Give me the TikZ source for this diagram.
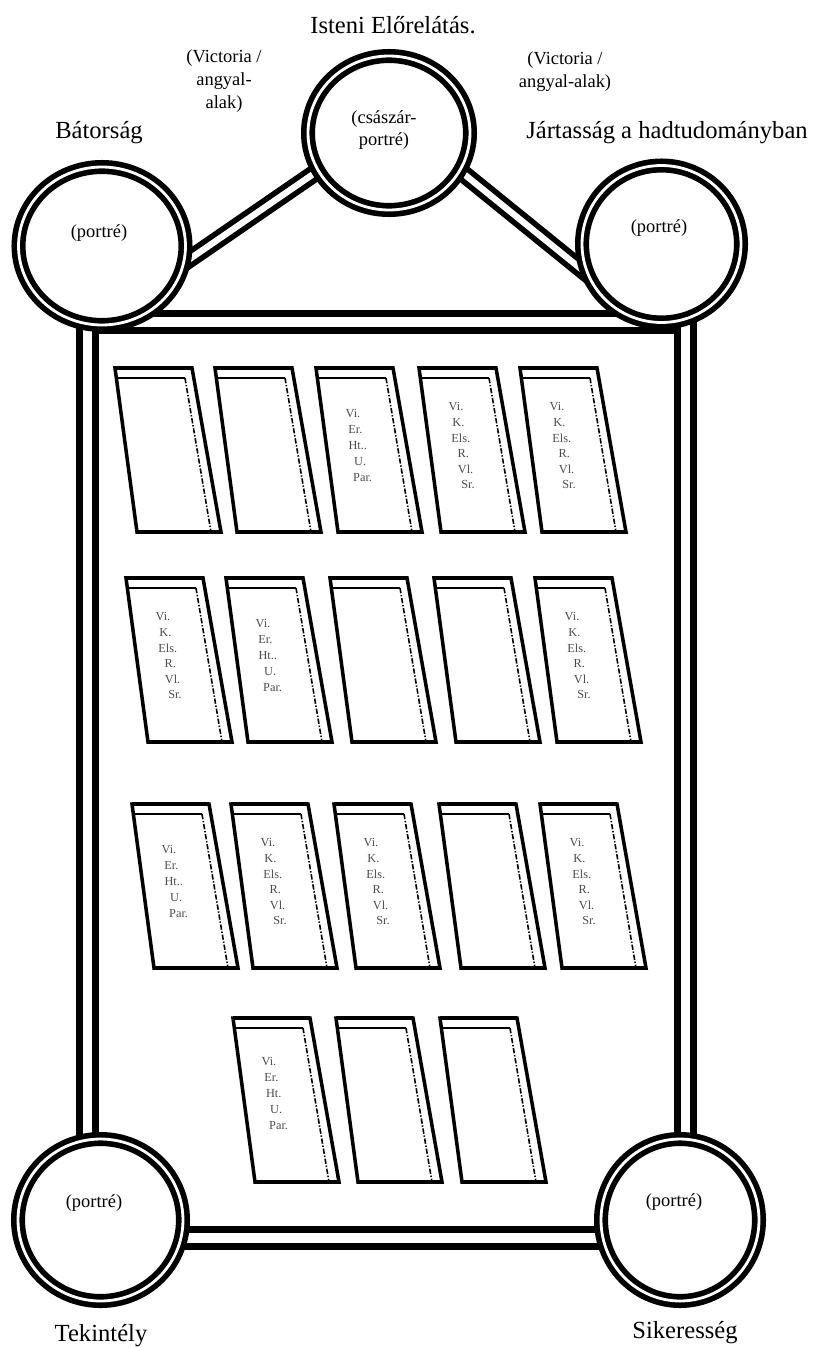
\documentclass[tikz,border=0pt]{standalone}
\usepackage{fontspec}
\setmainfont{Liberation Serif}
\usetikzlibrary{shapes.geometric}
\pgfdeclarelayer{bg}
\pgfsetlayers{bg,main}

\begin{document}
\begin{tikzpicture}[
    x=0.02cm, y=-0.02cm,
    ring/.style={ellipse, draw, fill=white, double, double distance=1.6pt,
                 line width=3.2pt, inner sep=0pt, outer sep=0pt},
    bar/.style={double, double distance=5.6pt, line width=3.8pt},
    strut/.style={double, double distance=3.6pt, line width=3.2pt},
    lab/.style={font=\fontsize{14}{16}\selectfont},
    note/.style={font=\fontsize{10.5}{13}\selectfont, align=center, inner sep=0pt},
    vol/.style={line width=2pt, line join=miter},
    voltop/.style={line width=2.6pt},
    volbase/.style={line width=2.8pt},
    volrule/.style={line width=1.5pt},
    voldash/.style={line width=0.9pt, dash pattern=on 3pt off 1pt on 0.8pt off 1pt},
    spine/.style={font=\fontsize{7}{8}\selectfont, text=black!70, inner sep=0pt},
  ]

  \useasboundingbox (0,0) rectangle (812,1348);

  %% ---- the five medallions ---------------------------------------------
  \node[ring, minimum width=3.34cm, minimum height=3.16cm] (L)  at (102,246)    {};
  \node[ring, minimum width=3.24cm, minimum height=3.08cm] (T)  at (389,133)    {};
  \node[ring, minimum width=3.18cm, minimum height=3.14cm] (R)  at (661.5,244)  {};
  \node[ring, minimum width=3.30cm, minimum height=3.24cm] (BL) at (100.5,1220) {};
  \node[ring, minimum width=3.16cm, minimum height=3.24cm] (BR) at (680,1220)   {};

  \node[note] (Lp)  at (99,233)   {(portré)};
  \node[note] (Tp)  at (384,130)  {(császár-\\ portré)};
  \node[note] (Rp)  at (659,228)  {(portré)};
  \node[note] (BLp) at (94,1203)  {(portré)};
  \node[note] (BRp) at (674,1202) {(portré)};

  %% ---- frame and bars, behind the medallions ----------------------------
  \begin{pgfonlayer}{bg}
    \coordinate (fNW) at (87.5,322);
    \coordinate (fSE) at (685.5,1238);
    \draw[bar] (fNW) rectangle (fSE);
    \draw[strut, shorten <=-12pt, shorten >=-12pt] (L.-12) -- (T.208);
    \draw[strut, shorten <=-12pt, shorten >=-12pt] (T.-28) -- (R.203);
  \end{pgfonlayer}

  %% ---- titles -----------------------------------------------------------
  \node[lab]  (tT)  at (393,25)   {Isteni Előrelátás.};
  \node[note] (vL)  at (224,81)   {(Victoria /\\ angyal-\\ alak)};
  \node[note] (vR)  at (565,72)   {(Victoria /\\ angyal-alak)};
  \node[lab]  (tL)  at (99,133)   {Bátorság};
  \node[lab]  (tR)  at (667,133)  {Jártasság a hadtudományban};
  \node[lab]  (tBL) at (101,1336) {Tekintély};
  \node[lab]  (tBR) at (685,1333) {Sikeresség};

  %% ---- the volumes ------------------------------------------------------
  \foreach \bx/\by in {115/368, 215/368, 316/368, 419/368, 520/368,
                       126/578, 226/578, 330/578, 434/578, 535/578,
                       132/804, 231/804, 334/804, 439/804, 540/804,
                       233/1018, 336/1018, 440/1018} {
    \draw[vol] (\bx,\by) -- ++(77,0) -- ++(29,164) -- ++(-84,0) -- cycle;
    \draw[voltop] (\bx,\by) -- ++(77,0);
    \draw[volbase] (\bx+22,\by+164) -- ++(84,0);
    \draw[volrule] (\bx+1.5,\by+10) -- ++(68.5,0);
    \draw[voldash] (\bx+70,\by+10) -- ++(26,154);
  }

  %% ---- spine texts ------------------------------------------------------
  \foreach \bx/\by/\nm in {316/368/a3, 226/578/b2, 132/804/c1} {
    \foreach \w [count=\j from 0] in {Vi.,Er.,Ht..,U.,Par.}
      \node[spine] (\nm-\j) at (\bx+37+2.4*\j, \by+46+16*\j) {\w};
  }
  \foreach \bx/\by/\nm in {419/368/a4, 520/368/a5, 126/578/b1, 535/578/b5,
                           231/804/c2, 334/804/c3, 540/804/c5} {
    \foreach \w [count=\j from 0] in {Vi.,K.,Els.,R.,Vl.,Sr.}
      \node[spine] (\nm-\j) at (\bx+37+2.4*\j, \by+39+15.6*\j) {\w};
  }
  \foreach \w [count=\j from 0] in {Vi.,Er.,Ht.,U.,Par.}
    \node[spine] (d1-\j) at (233+36+2.4*\j, 1018+44+16*\j) {\w};

\end{tikzpicture}
\end{document}
